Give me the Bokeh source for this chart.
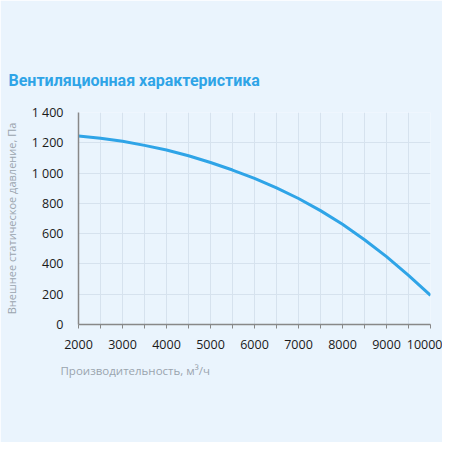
from bokeh.plotting import figure
from bokeh.models import FixedTicker, Range1d, Title
from bokeh.embed import file_html
from bokeh.resources import INLINE

title_text = "Вентиляционная характеристика"
x_label = "Производительность, м³/ч"
y_label = "Внешнее статическое давление, Па"

flow = [2000, 2500, 3000, 3500, 4000, 4500, 5000, 5500, 6000, 6500, 7000, 7500, 8000, 8500, 9000, 9500, 10000]
pressure = [1245, 1230, 1210, 1183, 1152, 1114, 1070, 1020, 965, 902, 832, 752, 662, 560, 448, 325, 192]

x_ticks = list(range(2000, 10001, 500))
x_tick_labels = {t: (str(t) if t % 1000 == 0 else "") for t in x_ticks}
y_ticks = [0, 200, 400, 600, 800, 1000, 1200, 1400]
y_tick_labels = {0: "0", 200: "200", 400: "400", 600: "600", 800: "800",
                 1000: "1 000", 1200: "1 200", 1400: "1 400"}

BG = "#eaf4fd"
BLUE = "#2fa4e7"
FONT = "Open Sans"

p = figure(width=442, height=442, output_backend="svg", toolbar_location=None,
           x_range=Range1d(2000, 10000), y_range=Range1d(0, 1400),
           background_fill_color=BG, border_fill_color=BG,
           min_border_left=78, min_border_right=12, min_border_top=112, min_border_bottom=118)
p.outline_line_color = None

p.line(flow, pressure, line_color=BLUE, line_width=3)

p.xaxis.ticker = FixedTicker(ticks=x_ticks)
p.xaxis.major_label_overrides = x_tick_labels
p.xaxis.minor_tick_line_color = None
p.xaxis.major_tick_out = 4
p.xaxis.major_tick_in = 0
p.xaxis.major_tick_line_color = "#888888"
p.xaxis.axis_line_color = "#888888"
p.xaxis.axis_line_width = 1.5
p.xaxis.major_label_text_font = FONT
p.xaxis.major_label_text_font_size = "12.5px"
p.xaxis.major_label_text_color = "#1a1a1a"
p.xaxis.major_label_standoff = 11

p.yaxis.ticker = FixedTicker(ticks=y_ticks)
p.yaxis.major_label_overrides = y_tick_labels
p.yaxis.minor_tick_line_color = None
p.yaxis.major_tick_line_color = None
p.yaxis.axis_line_color = "#888888"
p.yaxis.axis_line_width = 1.5
p.yaxis.major_label_text_font = FONT
p.yaxis.major_label_text_font_size = "12.5px"
p.yaxis.major_label_text_color = "#1a1a1a"
p.yaxis.major_label_standoff = 9
p.yaxis.axis_label = y_label
p.yaxis.axis_label_text_font = FONT
p.yaxis.axis_label_text_font_style = "normal"
p.yaxis.axis_label_text_font_size = "11px"
p.yaxis.axis_label_text_color = "#9aa4ae"
p.yaxis.axis_label_standoff = 10

p.xgrid.ticker = FixedTicker(ticks=x_ticks)
p.xgrid.grid_line_color = "#d6e2ee"
p.ygrid.ticker = FixedTicker(ticks=y_ticks)
p.ygrid.grid_line_color = "#d6e2ee"

p.add_layout(Title(text=" \n" + x_label, align="left", offset=-18, standoff=0,
                   text_font=FONT, text_font_size="11.5px", text_font_style="normal",
                   text_line_height=0.6, text_color="#9aa4ae"), "below")
p.add_layout(Title(text=title_text + "\n ", align="left", offset=-70, standoff=0,
                   text_font="Roboto", text_font_size="16px", text_font_style="bold",
                   text_line_height=1.2, text_color=BLUE), "above")

open("out.html", "w").write(file_html(p, INLINE))
